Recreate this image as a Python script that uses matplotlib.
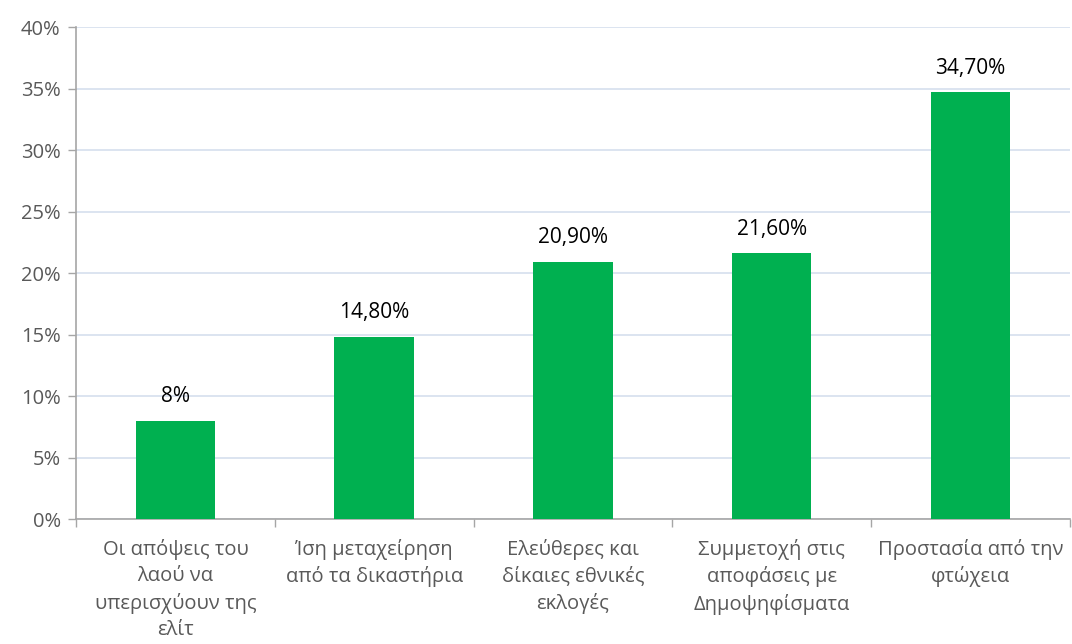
import matplotlib
matplotlib.use("Agg")
import matplotlib.pyplot as plt
import numpy as np
from matplotlib.ticker import FixedLocator, FuncFormatter

categories = [
    "Οι απόψεις του\nλαού να\nυπερισχύουν της\nελίτ",
    "Ίση μεταχείρηση\nαπό τα δικαστήρια",
    "Ελεύθερες και\nδίκαιες εθνικές\nεκλογές",
    "Συμμετοχή στις\nαποφάσεις με\nΔημοψηφίσματα",
    "Προστασία από την\nφτώχεια",
]
values = [8.0, 14.8, 20.9, 21.6, 34.7]
value_labels = ["8%", "14,80%", "20,90%", "21,60%", "34,70%"]

plt.rcParams["font.family"] = ["Open Sans", "DejaVu Sans"]
text_grey = "#595959"
axis_grey = "#A6A6A6"

fig = plt.figure(figsize=(10.72, 6.44), dpi=100)
ax = fig.add_axes([0.0709, 0.194, 0.927, 0.764])

x = np.arange(len(categories))
ax.bar(x, values, width=0.4, color="#00B050", zorder=3)

for xi, v, lab in zip(x, values, value_labels):
    ax.text(xi, v + 1.1, lab, ha="center", va="bottom", fontsize=15, color="black")

ax.set_xlim(-0.5, len(categories) - 0.5)
ax.set_ylim(0, 40)
ax.set_yticks(np.arange(0, 41, 5))
ax.yaxis.set_major_formatter(FuncFormatter(lambda v, p: f"{int(v)}%"))
ax.grid(axis="y", color="#D6DFEE", linewidth=1.2, zorder=0)

ax.set_xticks(x)
ax.set_xticklabels(categories, fontsize=14.5, color=text_grey, linespacing=1.42)
ax.tick_params(axis="x", which="major", length=0, pad=14)
ax.xaxis.set_minor_locator(FixedLocator(np.arange(-0.5, len(categories), 1.0)))
ax.tick_params(axis="x", which="minor", length=6, color=axis_grey, width=1)
ax.tick_params(axis="y", length=6, color=axis_grey, width=1, labelsize=14.5,
               labelcolor=text_grey, pad=5)

for side in ("top", "right"):
    ax.spines[side].set_visible(False)
for side in ("left", "bottom"):
    ax.spines[side].set_color(axis_grey)
    ax.spines[side].set_linewidth(1.2)

fig.savefig("out.png", dpi=100)
